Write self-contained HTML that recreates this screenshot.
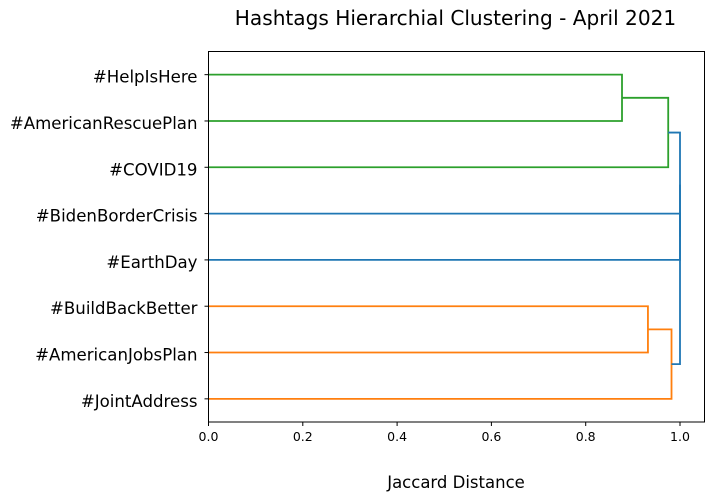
<!DOCTYPE html>
<html><head><meta charset="utf-8"><style>
body{margin:0;background:#fff;}
svg{display:block;font-family:"DejaVu Sans","Liberation Sans",sans-serif;}
</style></head><body>
<svg id="chart" width="713" height="501">
<text x="455.5" y="25" font-size="20.1" text-anchor="middle">Hashtags Hierarchial Clustering - April 2021</text>
<text x="456" y="488" font-size="16.5" text-anchor="middle">Jaccard Distance</text>
<g id="links"></g>
<rect x="208.5" y="51.5" width="496" height="370.5" fill="none" stroke="#000" stroke-width="1"/>
<g id="ticks"></g>
</svg>
<script>
const leaves = ["#JointAddress","#AmericanJobsPlan","#BuildBackBetter","#EarthDay","#BidenBorderCrisis","#COVID19","#AmericanRescuePlan","#HelpIsHere"];
const mergeLeft = [6,5,1,0,3,12,11];
const mergeRight = [7,8,2,10,4,9,13];
const mergeDist = [0.877,0.975,0.932,0.982,1.0,1.0,1.0];
const mergeColor = ["#2ca02c","#2ca02c","#ff7f0e","#ff7f0e","#1f77b4","#1f77b4","#1f77b4"];
const xTicks = [0,0.2,0.4,0.6,0.8,1.0];
const xTickLabels = ["0.0","0.2","0.4","0.6","0.8","1.0"];

const NS="http://www.w3.org/2000/svg";
const svg=document.getElementById('chart');
const X0=208.5, XPU=471.5, YB=422, YPU=370.5/80;
const xs=v=>X0+v*XPU;
const ys=v=>YB-v*YPU;
const pos=[], dist=[];
leaves.forEach((l,i)=>{pos[i]=5+10*i;dist[i]=0;});
const gl=document.getElementById('links');
mergeLeft.forEach((a,k)=>{
  const b=mergeRight[k], d=mergeDist[k], id=leaves.length+k;
  pos[id]=(pos[a]+pos[b])/2; dist[id]=d;
  const p=document.createElementNS(NS,'path');
  p.setAttribute('d',`M${xs(dist[a])},${ys(pos[a])}H${xs(d)}V${ys(pos[b])}H${xs(dist[b])}`);
  p.setAttribute('fill','none');p.setAttribute('stroke',mergeColor[k]);p.setAttribute('stroke-width','1.8');
  
  
  gl.appendChild(p);
});
const gt=document.getElementById('ticks');
xTicks.forEach((t,i)=>{
  const ln=document.createElementNS(NS,'line');
  ln.setAttribute('x1',xs(t));ln.setAttribute('x2',xs(t));ln.setAttribute('y1',YB);ln.setAttribute('y2',YB+4);ln.setAttribute('stroke','#000');
  
  
  gt.appendChild(ln);
  const tx=document.createElementNS(NS,'text');
  tx.setAttribute('x',xs(t));tx.setAttribute('y',YB+19);tx.setAttribute('font-size','12.5');tx.setAttribute('text-anchor','middle');
  tx.textContent=xTickLabels[i];
  
  
  gt.appendChild(tx);
});
leaves.forEach((l,i)=>{
  const y=ys(pos[i]);
  const ln=document.createElementNS(NS,'line');
  ln.setAttribute('x1',X0-4);ln.setAttribute('x2',X0);ln.setAttribute('y1',y);ln.setAttribute('y2',y);ln.setAttribute('stroke','#000');
  
  
  gt.appendChild(ln);
  const tx=document.createElementNS(NS,'text');
  tx.setAttribute('x',X0-11);tx.setAttribute('y',y+8);tx.setAttribute('font-size','16.6');tx.setAttribute('text-anchor','end');
  tx.textContent=l;
  
  
  gt.appendChild(tx);
});
</script>
</body></html>
